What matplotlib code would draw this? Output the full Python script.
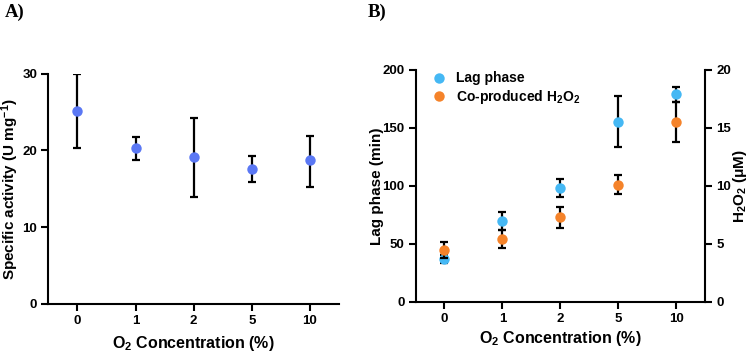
import numpy as np
import matplotlib
matplotlib.use("Agg")
import matplotlib.pyplot as plt
from matplotlib.lines import Line2D

plt.rcParams['font.family'] = ['Liberation Sans', 'DejaVu Sans']
plt.rcParams['font.weight'] = 'bold'
plt.rcParams['mathtext.fontset'] = 'custom'
plt.rcParams['mathtext.rm'] = 'Liberation Sans:bold'
plt.rcParams['mathtext.bf'] = 'Liberation Sans:bold'
plt.rcParams['mathtext.it'] = 'Liberation Sans:bold'
plt.rcParams['mathtext.default'] = 'bf'

# data
conc = ['0', '1', '2', '5', '10']
activity = [25.2, 20.3, 19.1, 17.6, 18.7]
activity_lo = [20.3, 18.8, 13.9, 15.9, 15.3]
activity_hi = [30.0, 21.8, 24.3, 19.3, 21.9]

lag = [36.6, 69.7, 97.9, 155.4, 178.8]
lag_err = [3.5, 8.0, 7.8, 22.0, 6.5]
h2o2 = [4.5, 5.4, 7.3, 10.1, 15.5]
h2o2_err = [0.7, 0.8, 0.9, 0.8, 1.7]

col_a = '#5B78F4'
col_lag = '#45B8F4'
col_h2o2 = '#F5832A'

x = np.arange(len(conc))

fig = plt.figure(figsize=(7.5, 3.53), dpi=100)


def style_axes(ax):
    for s in ['top', 'right']:
        ax.spines[s].set_visible(False)
    for s in ['left', 'bottom', 'right']:
        ax.spines[s].set_linewidth(1.5)
    ax.tick_params(direction='out', length=5, width=1.5, labelsize=9.5, pad=3)
    ax.set_xlim(-0.5, 4.5)
    ax.set_xticks(x, conc)


# panel A
ax1 = fig.add_axes([0.0644, 0.139, 0.3876, 0.652])
style_axes(ax1)
yerr = [np.array(activity) - np.array(activity_lo), np.array(activity_hi) - np.array(activity)]
ax1.errorbar(x, activity, yerr=yerr, fmt='o', color=col_a, ms=7.5, mec='none',
             ecolor='black', elinewidth=1.6, capsize=3, capthick=1.6, zorder=3)
ax1.set_ylim(0, 30)
ax1.set_yticks([0, 10, 20, 30])
ax1.set_ylabel('Specific activity (U mg$^{-1}$)', fontsize=11, fontweight='bold')
ax1.yaxis.set_label_coords(-0.095, 0.5)
ax1.set_xlabel('O$_2$ Concentration (%)', fontsize=11.5, fontweight='bold', labelpad=5)

# panel B
ax2 = fig.add_axes([0.554, 0.145, 0.386, 0.657])
style_axes(ax2)
ax3 = ax2.twinx()
style_axes(ax3)
ax3.spines['right'].set_visible(True)
ax3.spines['left'].set_visible(False)
ax3.spines['bottom'].set_visible(False)

ax2.errorbar(x, lag, yerr=lag_err, fmt='o', color=col_lag, ms=7.5, mec='none',
             ecolor='black', elinewidth=1.6, capsize=3, capthick=1.6, zorder=3)
ax3.errorbar(x, h2o2, yerr=h2o2_err, fmt='o', color=col_h2o2, ms=7.5, mec='none',
             ecolor='black', elinewidth=1.6, capsize=3, capthick=1.6, zorder=3)
ax2.set_ylim(0, 200)
ax2.set_yticks([0, 50, 100, 150, 200])
ax3.set_ylim(0, 20)
ax3.set_yticks([0, 5, 10, 15, 20])
ax2.set_ylabel('Lag phase (min)', fontsize=11, fontweight='bold')
ax2.yaxis.set_label_coords(-0.11, 0.5)
ax3.set_ylabel('H$_2$O$_2$ (μM)', fontsize=11, fontweight='bold')
ax3.yaxis.set_label_coords(1.09, 0.5)
ax2.set_xlabel('O$_2$ Concentration (%)', fontsize=11.5, fontweight='bold', labelpad=3)

handles = [Line2D([], [], marker='o', ls='none', color=col_lag, ms=7.5, mec='none'),
           Line2D([], [], marker='o', ls='none', color=col_h2o2, ms=7.5, mec='none')]
ax2.legend(handles, ['Lag phase', 'Co-produced H$_2$O$_2$'], loc='upper left',
           bbox_to_anchor=(0.0, 1.035), frameon=False, fontsize=10, handletextpad=0.25,
           labelspacing=0.2, borderaxespad=0.3)

# panel letters
fig.text(0.006, 0.99, 'A)', family='Liberation Serif', fontweight='bold', fontsize=13.5, va='top')
fig.text(0.49, 0.99, 'B)', family='Liberation Serif', fontweight='bold', fontsize=13.5, va='top')

fig.savefig('out.png', dpi=100)
